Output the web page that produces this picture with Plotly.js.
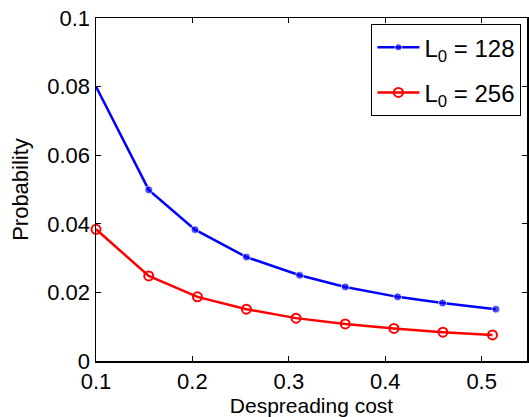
<!DOCTYPE html>
<html>
<head>
<meta charset="utf-8">
<script src="https://cdn.plot.ly/plotly-3.0.1.min.js"></script>
<style>html,body{margin:0;padding:0;background:#fff;overflow:hidden}</style>
</head>
<body>
<div id="chart" style="width:529px;height:417px"></div>
<script>
// Despreading cost (x) and probability (y)
var xL128 = [0.1, 0.1547, 0.2027, 0.256, 0.3112, 0.3585, 0.4128, 0.4594, 0.5147];
var yL128 = [0.080, 0.0499, 0.0383, 0.0303, 0.0250, 0.0216, 0.0187, 0.0169, 0.0151];
var xL256 = [0.1, 0.1547, 0.2052, 0.256, 0.3075, 0.3585, 0.4090, 0.4598, 0.5112];
var yL256 = [0.0384, 0.0248, 0.0187, 0.0151, 0.0125, 0.0108, 0.0095, 0.0084, 0.0076];
var seriesNames = ['L<sub>0</sub> = 128', 'L<sub>0</sub> = 256'];
var xTitle = 'Despreading cost';
var yTitle = 'Probability';

var font = 'Liberation Sans, Arial, sans-serif';
var traces = [
  {x: xL128, y: yL128, name: seriesNames[0], legendgroup: 'a', mode: 'lines+markers', type: 'scatter',
   line: {color: '#0000ff', width: 2.5},
   marker: {color: '#0000ff', size: [0, 8, 8, 8, 8, 8, 8, 8, 8], symbol: 'circle'},
   cliponaxis: false},
  {x: xL256, y: yL256, name: seriesNames[1], legendgroup: 'b', mode: 'lines+markers', type: 'scatter',
   line: {color: '#ff0000', width: 2.5},
   marker: {color: '#ff0000', size: 9, symbol: 'circle-open', line: {color: '#ff0000', width: 2}},
   cliponaxis: false}
];
var axisCommon = {
  showline: true, linecolor: '#000', linewidth: 1.5, mirror: 'ticks',
  ticks: 'inside', ticklen: 5, tickwidth: 1, tickcolor: '#000',
  showgrid: false, zeroline: false,
  tickfont: {family: font, size: 22, color: '#000'}
};
var layout = {
  width: 529, height: 417,
  margin: {l: 96, r: 2, t: 18, b: 56, pad: 0},
  paper_bgcolor: '#fff', plot_bgcolor: '#fff',
  showlegend: true,
  legend: {x: 0.639, y: 0.982, xanchor: 'left', yanchor: 'top',
    bordercolor: '#000', borderwidth: 1, bgcolor: '#fff', tracegroupgap: 11, itemwidth: 42,
    font: {family: font, size: 24, color: '#000'}},
  xaxis: Object.assign({}, axisCommon, {
    range: [0.1, 0.547], dtick: 0.1, tick0: 0.1,
    title: {text: xTitle, font: {family: font, size: 21, color: '#000'}, standoff: 6}
  }),
  yaxis: Object.assign({}, axisCommon, {
    range: [0, 0.1], dtick: 0.02, tick0: 0,
    title: {text: yTitle, font: {family: font, size: 22, color: '#000'}, standoff: 12}
  })
};
Plotly.newPlot('chart', traces, layout, {displayModeBar: false, staticPlot: true});
</script>
</body>
</html>
